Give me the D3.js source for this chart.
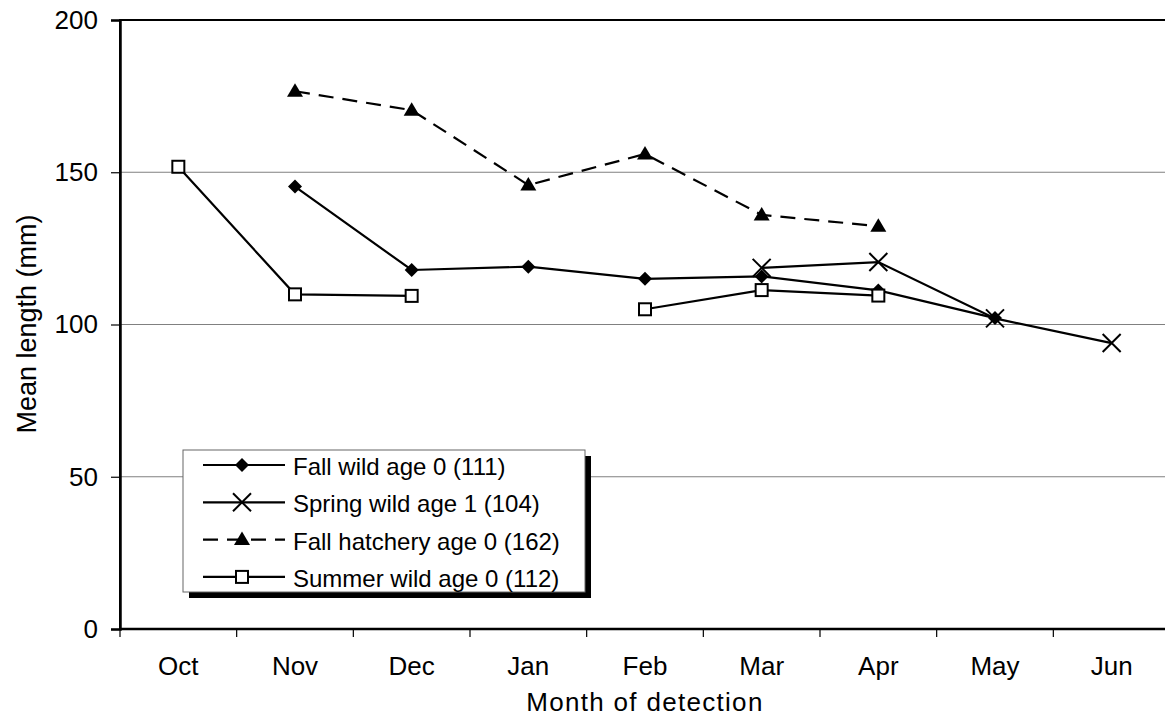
<!DOCTYPE html>
<html>
<head>
<meta charset="utf-8">
<script src="https://cdn.jsdelivr.net/npm/d3@7"></script>
<style>
  body { margin: 0; background: #fff; }
  svg { display: block; font-family: "Liberation Sans", Arial, sans-serif; }
</style>
</head>
<body>
<svg id="chart" width="1165" height="717"></svg>
<script>
// months on the x axis
const months = ["Oct", "Nov", "Dec", "Jan", "Feb", "Mar", "Apr", "May", "Jun"];
const yTicks = [0, 50, 100, 150, 200];

// mean length (mm) per month, null = no detections
const fallWild     = [null, 145.3, 117.9, 119.0, 115.0, 115.8, 111.2, 102.1, null];
const springWild   = [null, null, null, null, null, 118.6, 120.5, 102.0, 93.9];
const fallHatchery = [null, 176.6, 170.4, 145.8, 156.0, 136.0, 132.3, null, null];
const summerWild   = [151.8, 109.9, 109.4, null, 105.0, 111.3, 109.5, null, null];

const seriesNames = [
    "Fall wild age 0 (111)",
    "Spring wild age 1 (104)",
    "Fall hatchery age 0 (162)",
    "Summer wild age 0 (112)"
];

const svg = d3.select("#chart");

const plotLeft = 120, plotRight = 1170, plotTop = 20, plotBottom = 629;

const x = d3.scaleBand().domain(months).range([plotLeft, plotRight]).padding(0);
const y = d3.scaleLinear().domain([0, 200]).range([plotBottom, plotTop]);

// gridlines
svg.append("g")
    .selectAll("line")
    .data([50, 100, 150])
    .join("line")
    .attr("x1", plotLeft).attr("x2", plotRight)
    .attr("y1", d => y(d)).attr("y2", d => y(d))
    .attr("stroke", "#808080")
    .attr("stroke-width", 1.2);

// plot area border (top edge visible, right edge is off the page)
svg.append("rect")
    .attr("x", plotLeft).attr("y", plotTop)
    .attr("width", plotRight - plotLeft).attr("height", plotBottom - plotTop)
    .attr("fill", "none")
    .attr("stroke", "#000")
    .attr("stroke-width", 2);

// y axis
const yAxis = svg.append("g")
    .attr("transform", `translate(${plotLeft},0)`)
    .call(d3.axisLeft(y).tickValues(yTicks).tickSize(9).tickPadding(13));
yAxis.select(".domain").attr("stroke-width", 2.5);
yAxis.selectAll(".tick line").attr("stroke-width", 1.2);
yAxis.selectAll("text")
    .attr("font-size", 26)
    .attr("font-family", "Liberation Sans, Arial, sans-serif")
    .attr("fill", "#000");

// x axis line and boundary ticks
svg.append("line")
    .attr("x1", plotLeft).attr("x2", plotRight)
    .attr("y1", plotBottom).attr("y2", plotBottom)
    .attr("stroke", "#000").attr("stroke-width", 2.5);

const bounds = months.map(m => x(m)).concat([x(months[months.length - 1]) + x.bandwidth()]);
svg.append("g")
    .selectAll("line")
    .data(bounds)
    .join("line")
    .attr("x1", d => d).attr("x2", d => d)
    .attr("y1", plotBottom).attr("y2", plotBottom + 8)
    .attr("stroke", "#000").attr("stroke-width", 1.2);

svg.append("g")
    .selectAll("text")
    .data(months)
    .join("text")
    .attr("x", d => x(d) + x.bandwidth() / 2)
    .attr("y", 675)
    .attr("text-anchor", "middle")
    .attr("font-size", 26)
    .text(d => d);

// axis titles
svg.append("text")
    .attr("x", 645).attr("y", 711)
    .attr("text-anchor", "middle")
    .attr("font-size", 26)
    .attr("letter-spacing", 1.3)
    .text("Month of detection");

svg.append("text")
    .attr("transform", "translate(36,324) rotate(-90)")
    .attr("text-anchor", "middle")
    .attr("font-size", 27)
    .text("Mean length (mm)");

// markers
function drawMarker(g, type) {
    if (type === "diamond") {
        g.append("path").attr("d", "M0,-7L7,0L0,7L-7,0Z").attr("fill", "#000");
    } else if (type === "cross") {
        g.append("path").attr("d", "M-9,-9L9,9M-9,9L9,-9")
            .attr("stroke", "#000").attr("stroke-width", 2).attr("fill", "none");
    } else if (type === "triangle") {
        g.append("path").attr("d", "M0,-8L8,5.5L-8,5.5Z").attr("fill", "#000");
    } else if (type === "square") {
        g.append("rect").attr("x", -6).attr("y", -6).attr("width", 12).attr("height", 12)
            .attr("fill", "#fff").attr("stroke", "#000").attr("stroke-width", 2);
    }
}

const series = [
    { values: fallWild, marker: "diamond", dash: null },
    { values: springWild, marker: "cross", dash: null },
    { values: fallHatchery, marker: "triangle", dash: "15,9" },
    { values: summerWild, marker: "square", dash: null }
];

const line = d3.line()
    .defined(d => d.v !== null)
    .x(d => x(d.m) + x.bandwidth() / 2)
    .y(d => y(d.v));

series.forEach(s => {
    const pts = months.map((m, i) => ({ m: m, v: s.values[i] }));
    svg.append("path")
        .datum(pts)
        .attr("d", line)
        .attr("fill", "none")
        .attr("stroke", "#000")
        .attr("stroke-width", 2.2)
        .attr("stroke-dasharray", s.dash);
    pts.filter(d => d.v !== null).forEach(d => {
        const g = svg.append("g")
            .attr("transform", `translate(${x(d.m) + x.bandwidth() / 2},${y(d.v)})`);
        drawMarker(g, s.marker);
    });
});

// legend
const lx = 183, ly = 450, lw = 402, lh = 142;
svg.append("rect")
    .attr("x", lx + 6).attr("y", ly + 6)
    .attr("width", lw).attr("height", lh)
    .attr("fill", "#000");
svg.append("rect")
    .attr("x", lx).attr("y", ly)
    .attr("width", lw).attr("height", lh)
    .attr("fill", "#fff")
    .attr("stroke", "#666").attr("stroke-width", 1);

series.forEach((s, i) => {
    const cy = 465 + i * 37.3;
    svg.append("line")
        .attr("x1", 203).attr("x2", 285)
        .attr("y1", cy).attr("y2", cy)
        .attr("stroke", "#000").attr("stroke-width", 2.2)
        .attr("stroke-dasharray", s.dash);
    const g = svg.append("g").attr("transform", `translate(242,${cy})`);
    drawMarker(g, s.marker);
    svg.append("text")
        .attr("x", 293).attr("y", cy + 10)
        .attr("font-size", 24)
        .text(seriesNames[i]);
});
</script>
</body>
</html>
